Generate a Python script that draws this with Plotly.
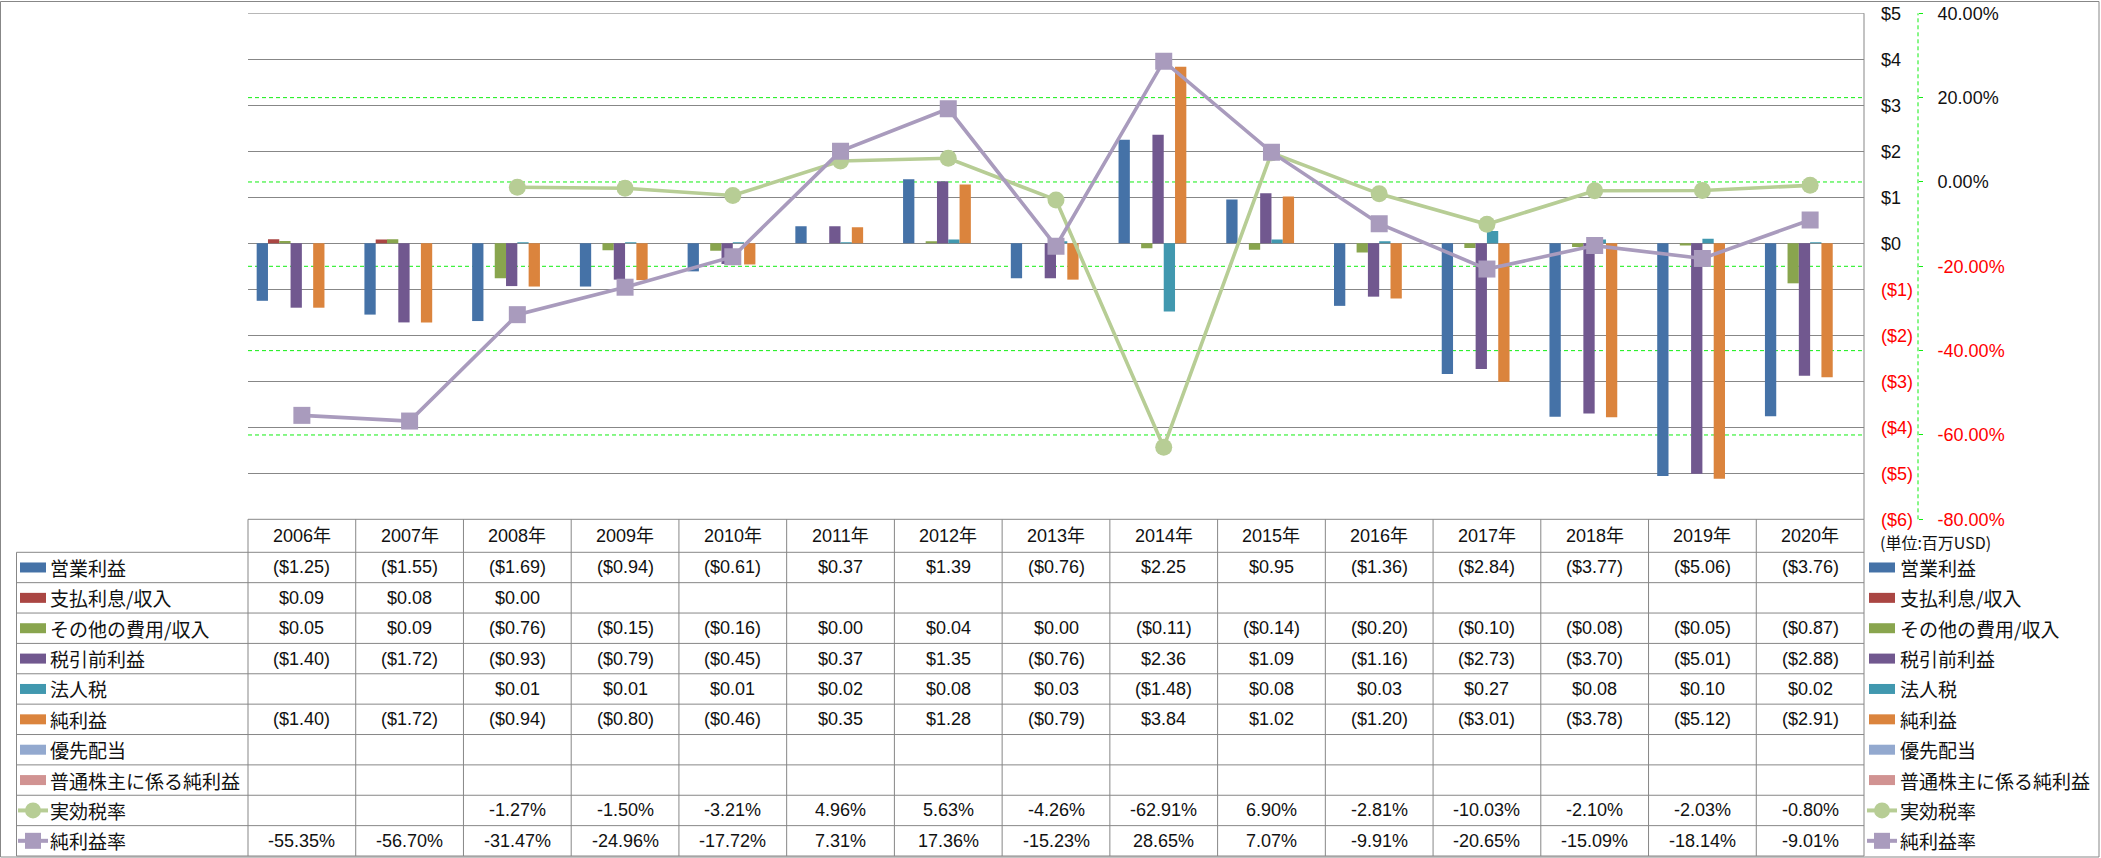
import plotly.graph_objects as go

W, H = 2101, 858

years = [f"{y}年" for y in range(2006, 2021)]

op_income = [-1.25, -1.55, -1.69, -0.94, -0.61, 0.37, 1.39, -0.76, 2.25, 0.95, -1.36, -2.84, -3.77, -5.06, -3.76]
interest = [0.09, 0.08, 0.00, None, None, None, None, None, None, None, None, None, None, None, None]
other_inc = [0.05, 0.09, -0.76, -0.15, -0.16, 0.00, 0.04, 0.00, -0.11, -0.14, -0.20, -0.10, -0.08, -0.05, -0.87]
pretax = [-1.40, -1.72, -0.93, -0.79, -0.45, 0.37, 1.35, -0.76, 2.36, 1.09, -1.16, -2.73, -3.70, -5.01, -2.88]
income_tax = [None, None, 0.01, 0.01, 0.01, 0.02, 0.08, 0.03, -1.48, 0.08, 0.03, 0.27, 0.08, 0.10, 0.02]
net_income = [-1.40, -1.72, -0.94, -0.80, -0.46, 0.35, 1.28, -0.79, 3.84, 1.02, -1.20, -3.01, -3.78, -5.12, -2.91]
pref_div = [None] * 15
common_ni = [None] * 15
tax_rate = [None, None, -1.27, -1.50, -3.21, 4.96, 5.63, -4.26, -62.91, 6.90, -2.81, -10.03, -2.10, -2.03, -0.80]
net_margin = [-55.35, -56.70, -31.47, -24.96, -17.72, 7.31, 17.36, -15.23, 28.65, 7.07, -9.91, -20.65, -15.09, -18.14, -9.01]

y1_ticks = [5, 4, 3, 2, 1, 0, -1, -2, -3, -4, -5, -6]
y2_ticks = [40, 20, 0, -20, -40, -60, -80]
y2_grid = [20, 0, -20, -40, -60]

bar_series = [
    ("営業利益", op_income, "#4572A7"),
    ("支払利息/収入", interest, "#AA4643"),
    ("その他の費用/収入", other_inc, "#89A54E"),
    ("税引前利益", pretax, "#71588F"),
    ("法人税", income_tax, "#4198AF"),
    ("純利益", net_income, "#DB843D"),
    ("優先配当", pref_div, "#93A9CF"),
    ("普通株主に係る純利益", common_ni, "#D19392"),
]
line_series = [
    ("実効税率", tax_rate, "#B7CD95", "circle"),
    ("純利益率", net_margin, "#A99BBD", "square"),
]

# ---- geometry (pixels) ----
PL, PR, PT, PB = 248.0, 1864.0, 13.3, 519.3
TL = 16.5
HDR_B = 552.3
ROW_H = (856.0 - HDR_B) / 10
COL_W = (PR - PL) / 15
Y2X = 1918.0

def fx(px):
    return px / W

def fy(py):
    return 1 - py / H

RED = "#FF0000"
GRAY = "#878787"
GREEN = "#11EE11"
FONT_NUM = "Liberation Sans, Arial, Noto Sans CJK JP"
FONT_JP = "Noto Sans CJK JP, Liberation Sans"

fig = go.Figure()

n = len(bar_series)
group = 0.839
bw = group / n
for i, (name, vals, col) in enumerate(bar_series):
    fig.add_trace(go.Bar(
        x=years, y=vals, name=name, marker=dict(color=col, line=dict(width=0)),
        width=bw, offset=-group / 2 + i * bw, showlegend=False, yaxis="y",
    ))

for name, vals, col, sym in line_series:
    fig.add_trace(go.Scatter(
        x=years, y=vals, name=name, yaxis="y2", mode="lines+markers",
        line=dict(color=col, width=3.6),
        marker=dict(symbol=sym, size=17, color=col),
        showlegend=False, connectgaps=False,
    ))

def money_tick(v):
    if v < 0:
        return f'<span style="color:{RED}">(${abs(v)})</span>'
    return f"${v}"

def pct_tick(v):
    s = f"{v:.2f}%"
    if v < 0:
        return f'<span style="color:{RED}">{s}</span>'
    return s

shapes = []
annotations = []

# secondary dashed gridlines
for v in y2_grid:
    shapes.append(dict(type="line", xref="paper", yref="y2", x0=fx(PL), x1=fx(PR), y0=v, y1=v,
                       line=dict(color=GREEN, width=1, dash="4px,3px"), layer="below"))
# secondary axis line (dashed)
shapes.append(dict(type="line", xref="paper", yref="paper", x0=fx(Y2X), x1=fx(Y2X), y0=fy(PB), y1=fy(PT),
                   line=dict(color=GREEN, width=1, dash="4px,3px")))
# top gridline and right plot edge
shapes.append(dict(type="line", xref="paper", yref="y", x0=fx(PL), x1=fx(PR), y0=5, y1=5,
                   line=dict(color=GRAY, width=1), layer="below"))
shapes.append(dict(type="line", xref="paper", yref="paper", x0=fx(PR), x1=fx(PR), y0=fy(PB), y1=fy(PT),
                   line=dict(color=GRAY, width=1)))

# ---- table lines ----
line_style = dict(color=GRAY, width=1)
shapes.append(dict(type="line", xref="paper", yref="paper", x0=fx(PL), x1=fx(PR), y0=fy(PB), y1=fy(PB), line=line_style))
for r in range(11):
    yy = HDR_B + r * ROW_H
    shapes.append(dict(type="line", xref="paper", yref="paper", x0=fx(TL), x1=fx(PR), y0=fy(yy), y1=fy(yy), line=line_style))
shapes.append(dict(type="line", xref="paper", yref="paper", x0=fx(TL), x1=fx(TL), y0=fy(HDR_B), y1=fy(856.0), line=line_style))
for c in range(16):
    xx = PL + c * COL_W
    shapes.append(dict(type="line", xref="paper", yref="paper", x0=fx(xx), x1=fx(xx), y0=fy(PB), y1=fy(856.0), line=line_style))
# outer border
shapes.append(dict(type="rect", xref="paper", yref="paper", x0=fx(0.5), x1=fx(2099.0), y0=fy(857.0), y1=fy(1.5),
                   line=dict(color=GRAY, width=1)))

# header
for c, yl in enumerate(years):
    annotations.append(dict(xref="paper", yref="paper", x=fx(PL + (c + 0.5) * COL_W), y=fy((PB + HDR_B) / 2),
                            text=yl, showarrow=False, xanchor="center", yanchor="middle",
                            font=dict(family=FONT_NUM, size=18, color="#111")))

def fmt_money(v):
    if v is None:
        return ""
    if v < 0:
        return f"(${abs(v):.2f})"
    return f"${v:.2f}"

def fmt_pct(v):
    if v is None:
        return ""
    return f"{v:.2f}%"

rows = [(name, vals, col, None, fmt_money) for name, vals, col in bar_series] + \
       [(name, vals, col, sym, fmt_pct) for name, vals, col, sym in line_series]

def legend_key(xc, yc, col, sym):
    if sym is None:
        shapes.append(dict(type="rect", xref="paper", yref="paper", x0=fx(xc - 13), x1=fx(xc + 13),
                           y0=fy(yc + 5), y1=fy(yc - 5), line=dict(width=0), fillcolor=col))
    else:
        shapes.append(dict(type="line", xref="paper", yref="paper", x0=fx(xc - 15), x1=fx(xc + 15),
                           y0=fy(yc), y1=fy(yc), line=dict(color=col, width=4)))
        if sym == "circle":
            shapes.append(dict(type="circle", xref="paper", yref="paper", x0=fx(xc - 8), x1=fx(xc + 8),
                               y0=fy(yc + 8), y1=fy(yc - 8), line=dict(width=0), fillcolor=col))
        else:
            shapes.append(dict(type="rect", xref="paper", yref="paper", x0=fx(xc - 8), x1=fx(xc + 8),
                               y0=fy(yc + 8), y1=fy(yc - 8), line=dict(width=0), fillcolor=col))

for r, (name, vals, col, sym, fmt) in enumerate(rows):
    yc = HDR_B + (r + 0.5) * ROW_H
    legend_key(33, yc, col, sym)
    legend_key(1882, yc, col, sym)
    for xl in (48, 1898):
        annotations.append(dict(xref="paper", yref="paper", x=fx(xl), y=fy(yc), text=name, showarrow=False,
                                xanchor="left", yanchor="middle",
                                font=dict(family=FONT_JP, size=19, color="#111")))
    for c, v in enumerate(vals):
        t = fmt(v)
        if t:
            annotations.append(dict(xref="paper", yref="paper", x=fx(PL + (c + 0.5) * COL_W), y=fy(yc),
                                    text=t, showarrow=False, xanchor="center", yanchor="middle",
                                    font=dict(family=FONT_NUM, size=18, color="#111")))

annotations.append(dict(xref="paper", yref="paper", x=fx(1878), y=fy(541.5), text="(単位:百万USD)",
                        showarrow=False, xanchor="left", yanchor="middle",
                        font=dict(family=FONT_JP, size=16, color="#111")))

fig.update_layout(
    width=W, height=H,
    margin=dict(l=0, r=0, t=0, b=0, pad=0),
    paper_bgcolor="white", plot_bgcolor="white",
    barmode="overlay",
    showlegend=False,
    xaxis=dict(domain=[fx(PL), fx(PR)], range=[-0.5, 14.5], showticklabels=False, ticks="",
               showgrid=False, zeroline=False, showline=False, type="category", automargin=False,
               categoryorder="array", categoryarray=years),
    yaxis=dict(domain=[fy(PB), fy(PT)], range=[-6, 5], side="right", tickvals=y1_ticks,
               ticktext=[money_tick(v) for v in y1_ticks], showgrid=True, gridcolor=GRAY, gridwidth=1,
               zeroline=False, showline=False, ticks="", ticklabelstandoff=16, automargin=False,
               tickfont=dict(family=FONT_NUM, size=18, color="#111")),
    yaxis2=dict(overlaying="y", side="right", anchor="free", position=fx(Y2X), range=[-80, 40],
                tickvals=y2_ticks, ticktext=[pct_tick(v) for v in y2_ticks], showgrid=False,
                zeroline=False, showline=False, ticks="outside", ticklen=4, tickcolor=GREEN, tickwidth=1,
                ticklabelstandoff=11, automargin=False,
                tickfont=dict(family=FONT_NUM, size=18, color="#111")),
    shapes=shapes,
    annotations=annotations,
)

fig.write_html("out.html")
